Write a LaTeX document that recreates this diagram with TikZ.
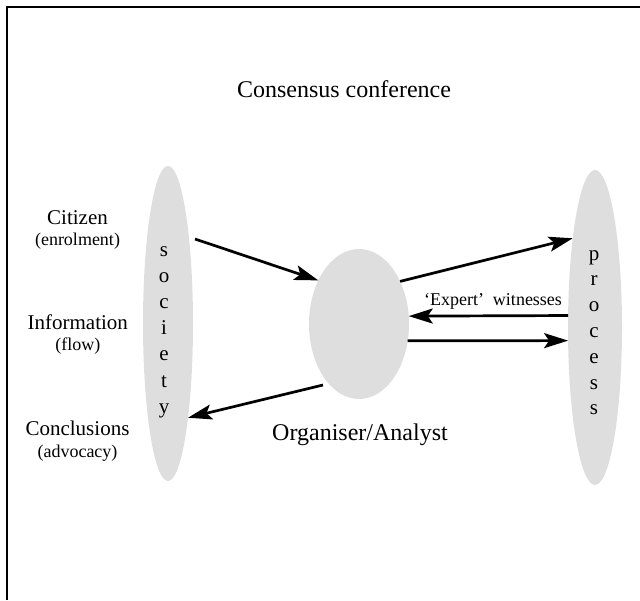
\documentclass[tikz,border=0pt]{standalone}
\usepackage{fontspec}
\setmainfont{Liberation Serif}
\usetikzlibrary{arrows.meta,shapes.geometric}
\begin{document}
\begin{tikzpicture}[x=1pt,y=-1pt,
  blob/.style={ellipse,fill=black!13,draw=none,inner sep=0pt,outer sep=0pt},
  arr/.style={line width=2.7pt,-{Stealth[length=24pt,width=15pt,inset=5pt]}},
  big/.style={font=\fontsize{24}{28}\selectfont,anchor=base,inner sep=0pt},
  lab/.style={font=\fontsize{21}{25}\selectfont,anchor=base,inner sep=0pt},
  small/.style={font=\fontsize{18}{22}\selectfont,anchor=base,inner sep=0pt},
  letter/.style={font=\fontsize{21}{25}\selectfont,anchor=base,inner sep=0pt}]
\useasboundingbox (0,0) rectangle (640,600);
\draw[line width=2.4pt] (7,600) -- (7,7) -- (640,7);
% ellipses
\node[blob,minimum width=50pt,minimum height=315pt] (soc) at (168,323.5) {};
\node[blob,minimum width=100pt,minimum height=150pt] (org) at (359,324) {};
\node[blob,minimum width=54pt,minimum height=315pt] (proc) at (595,327.5) {};
% letters
\foreach \l [count=\i from 0] in {s,o,c,i,e,t,y}
  \node[letter] (sl\i) at (164,256+26.2*\i) {\l};
\foreach \l [count=\i from 0] in {p,r,o,c,e,s,s}
  \node[letter] (pl\i) at (594,260+25.8*\i) {\l};
% texts
\node[big] (title) at (344,97) {Consensus conference};
\node[big] (orgl) at (360,440) {Organiser/Analyst};
\node[lab] (cit) at (77.5,224) {Citizen};
\node[small] (enr) at (77.5,245) {(enrolment)};
\node[lab] (inf) at (77.8,329) {Information};
\node[small] (flow) at (77.8,350) {(flow)};
\node[lab] (con) at (77.5,435) {Conclusions};
\node[small] (adv) at (77.5,457) {(advocacy)};
\node[small] (exp) at (493,305) {`Expert'~~witnesses};
% connectors
\coordinate (aS) at (195,239);
\coordinate (eS) at (323,385);
\draw[arr] (aS) -- (org.133.6);
\draw[arr] (org.46.4) -- (proc.104);
\draw[arr] (proc.156.9) -- (org.9.3);
\draw[arr] (org.-19.1) -- (proc.206.6);
\draw[arr] (eS) -- (soc.-78.5);
\end{tikzpicture}
\end{document}
